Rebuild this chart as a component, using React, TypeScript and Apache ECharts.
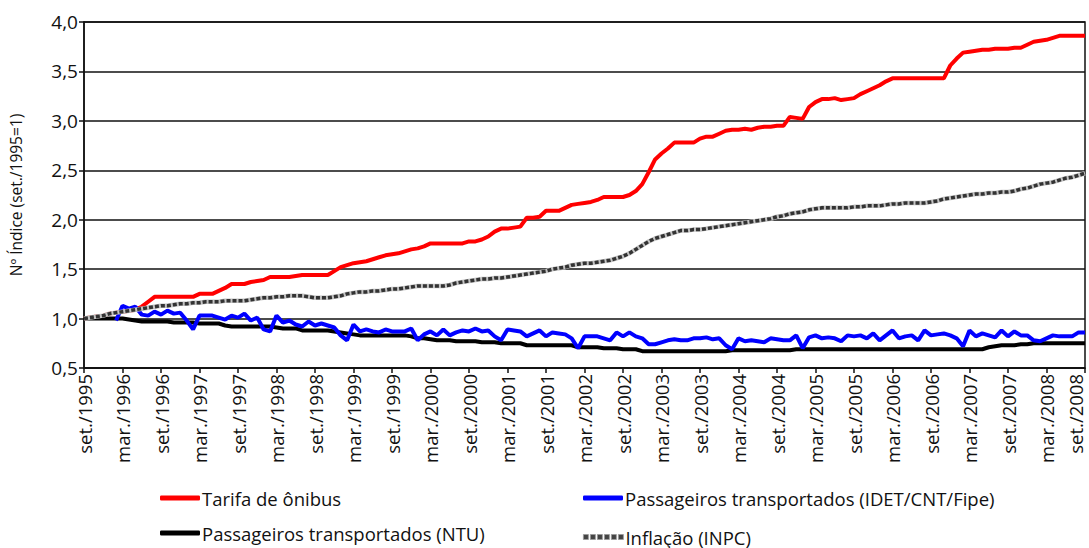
import React, { useEffect, useRef } from "react";
import * as echarts from "echarts";

const MONTHS = ["jan.", "fev.", "mar.", "abr.", "mai.", "jun.", "jul.", "ago.", "set.", "out.", "nov.", "dez."];
const START_YEAR = 1995;
const START_MONTH = 8; // set.
const N_MONTHS = 157; // set./1995 .. set./2008

const categories: string[] = [];
for (let i = 0; i < N_MONTHS; i++) {
  const k = START_MONTH + i;
  categories.push(`${MONTHS[k % 12]}/${START_YEAR + Math.floor(k / 12)}`);
}

const tarifa = [
  1.00, 1.01, 1.02, 1.03, 1.05, 1.06, 1.07, 1.08, 1.09, 1.12, 1.17, 1.22,
  1.22, 1.22, 1.22, 1.22, 1.22, 1.22, 1.25, 1.25, 1.25, 1.28, 1.31, 1.35,
  1.35, 1.35, 1.37, 1.38, 1.39, 1.42, 1.42, 1.42, 1.42, 1.43, 1.44, 1.44,
  1.44, 1.44, 1.44, 1.48, 1.52, 1.54, 1.56, 1.57, 1.58, 1.60, 1.62, 1.64,
  1.65, 1.66, 1.68, 1.70, 1.71, 1.73, 1.76, 1.76, 1.76, 1.76, 1.76, 1.76,
  1.78, 1.78, 1.80, 1.83, 1.88, 1.91, 1.91, 1.92, 1.93, 2.02, 2.02, 2.03,
  2.09, 2.09, 2.09, 2.12, 2.15, 2.16, 2.17, 2.18, 2.20, 2.23, 2.23, 2.23,
  2.23, 2.25, 2.29, 2.36, 2.48, 2.61, 2.67, 2.72, 2.78, 2.78, 2.78, 2.78,
  2.82, 2.84, 2.84, 2.87, 2.90, 2.91, 2.91, 2.92, 2.91, 2.93, 2.94, 2.94,
  2.95, 2.95, 3.04, 3.03, 3.02, 3.14, 3.19, 3.22, 3.22, 3.23, 3.21, 3.22,
  3.23, 3.27, 3.30, 3.33, 3.36, 3.40, 3.43, 3.43, 3.43, 3.43, 3.43, 3.43,
  3.43, 3.43, 3.43, 3.56, 3.63, 3.69, 3.70, 3.71, 3.72, 3.72, 3.73, 3.73,
  3.73, 3.74, 3.74, 3.77, 3.80, 3.81, 3.82, 3.84, 3.86, 3.86, 3.86, 3.86,
  3.86,
];

const passageirosIdet = [
  null, null, null, null, null, 0.98, 1.13, 1.10, 1.12, 1.04, 1.03, 1.07,
  1.04, 1.08, 1.05, 1.06, 0.98, 0.89, 1.03, 1.03, 1.03, 1.01, 0.99, 1.03,
  1.01, 1.05, 0.98, 1.01, 0.89, 0.87, 1.03, 0.96, 0.98, 0.94, 0.92, 0.97,
  0.93, 0.95, 0.93, 0.91, 0.83, 0.78, 0.94, 0.87, 0.89, 0.87, 0.86, 0.89,
  0.87, 0.87, 0.87, 0.90, 0.78, 0.84, 0.87, 0.83, 0.89, 0.83, 0.86, 0.88,
  0.87, 0.90, 0.87, 0.88, 0.82, 0.78, 0.89, 0.88, 0.87, 0.82, 0.85, 0.88,
  0.82, 0.86, 0.85, 0.84, 0.80, 0.70, 0.82, 0.82, 0.82, 0.80, 0.78, 0.86,
  0.82, 0.86, 0.82, 0.80, 0.74, 0.74, 0.76, 0.78, 0.79, 0.78, 0.78, 0.80,
  0.80, 0.81, 0.79, 0.80, 0.73, 0.69, 0.80, 0.77, 0.78, 0.77, 0.76, 0.80,
  0.79, 0.78, 0.78, 0.83, 0.70, 0.81, 0.83, 0.80, 0.81, 0.80, 0.77, 0.83,
  0.82, 0.83, 0.80, 0.85, 0.78, 0.83, 0.88, 0.80, 0.82, 0.83, 0.78, 0.88,
  0.83, 0.84, 0.85, 0.83, 0.80, 0.72, 0.88, 0.82, 0.85, 0.83, 0.81, 0.88,
  0.82, 0.87, 0.83, 0.83, 0.78, 0.77, 0.80, 0.83, 0.82, 0.82, 0.82, 0.86,
  0.86,
];

const passageirosNtu = [
  1.00, 1.00, 1.00, 1.00, 1.00, 1.00, 1.00, 0.99, 0.98, 0.97, 0.97, 0.97,
  0.97, 0.97, 0.96, 0.96, 0.96, 0.96, 0.95, 0.95, 0.95, 0.95, 0.93, 0.92,
  0.92, 0.92, 0.92, 0.92, 0.92, 0.92, 0.91, 0.90, 0.90, 0.90, 0.88, 0.88,
  0.88, 0.88, 0.88, 0.87, 0.86, 0.85, 0.84, 0.83, 0.83, 0.83, 0.83, 0.83,
  0.83, 0.83, 0.83, 0.82, 0.80, 0.80, 0.79, 0.78, 0.78, 0.78, 0.77, 0.77,
  0.77, 0.77, 0.76, 0.76, 0.76, 0.75, 0.75, 0.75, 0.75, 0.73, 0.73, 0.73,
  0.73, 0.73, 0.73, 0.73, 0.73, 0.71, 0.71, 0.71, 0.71, 0.70, 0.70, 0.70,
  0.69, 0.69, 0.69, 0.67, 0.67, 0.67, 0.67, 0.67, 0.67, 0.67, 0.67, 0.67,
  0.67, 0.67, 0.67, 0.67, 0.67, 0.68, 0.68, 0.68, 0.68, 0.68, 0.68, 0.68,
  0.68, 0.68, 0.68, 0.69, 0.69, 0.69, 0.69, 0.69, 0.69, 0.69, 0.69, 0.69,
  0.69, 0.69, 0.69, 0.69, 0.69, 0.69, 0.69, 0.69, 0.69, 0.69, 0.69, 0.69,
  0.69, 0.69, 0.69, 0.69, 0.69, 0.69, 0.69, 0.69, 0.69, 0.71, 0.72, 0.73,
  0.73, 0.73, 0.74, 0.74, 0.75, 0.75, 0.75, 0.75, 0.75, 0.75, 0.75, 0.75,
  0.75,
];

const inflacao = [
  1.00, 1.01, 1.02, 1.03, 1.05, 1.06, 1.07, 1.08, 1.09, 1.10, 1.11, 1.12,
  1.13, 1.13, 1.14, 1.15, 1.15, 1.16, 1.16, 1.17, 1.17, 1.17, 1.18, 1.18,
  1.18, 1.18, 1.19, 1.20, 1.21, 1.21, 1.22, 1.22, 1.23, 1.23, 1.23, 1.22,
  1.21, 1.21, 1.21, 1.22, 1.23, 1.25, 1.26, 1.27, 1.27, 1.28, 1.28, 1.29,
  1.30, 1.30, 1.31, 1.32, 1.33, 1.33, 1.33, 1.33, 1.33, 1.34, 1.36, 1.37,
  1.38, 1.39, 1.40, 1.40, 1.41, 1.41, 1.42, 1.43, 1.44, 1.45, 1.46, 1.47,
  1.48, 1.50, 1.51, 1.52, 1.54, 1.55, 1.56, 1.56, 1.57, 1.58, 1.59, 1.61,
  1.63, 1.66, 1.70, 1.74, 1.78, 1.81, 1.83, 1.85, 1.87, 1.89, 1.89, 1.90,
  1.90, 1.91, 1.92, 1.93, 1.94, 1.95, 1.96, 1.97, 1.98, 1.99, 2.00, 2.01,
  2.03, 2.04, 2.06, 2.07, 2.08, 2.10, 2.11, 2.12, 2.12, 2.12, 2.12, 2.12,
  2.13, 2.13, 2.14, 2.14, 2.14, 2.15, 2.16, 2.16, 2.17, 2.17, 2.17, 2.17,
  2.18, 2.19, 2.21, 2.22, 2.23, 2.24, 2.25, 2.26, 2.26, 2.27, 2.27, 2.28,
  2.28, 2.29, 2.31, 2.32, 2.34, 2.36, 2.37, 2.38, 2.40, 2.42, 2.43, 2.45,
  2.47,
];

const NAME_TARIFA = "Tarifa de ônibus";
const NAME_IDET = "Passageiros transportados (IDET/CNT/Fipe)";
const NAME_NTU = "Passageiros transportados (NTU)";
const NAME_INPC = "Inflação (INPC)";
const Y_NAME = "Nº Índice (set./1995=1)";

const FONT = "'Open Sans', 'Noto Sans', sans-serif";
const INK = "#111";
const DASH_ICON =
  "path://M0,0h5v5h-5zM7,0h5v5h-5zM14,0h5v5h-5zM21,0h5v5h-5zM28,0h5v5h-5zM35,0h5v5h-5z";

export default function App() {
  const ref = useRef<HTMLDivElement>(null);
  useEffect(() => {
    if (!ref.current) return;
    const chart = echarts.init(ref.current, undefined, { renderer: "svg" });
    const legendText = {
      fontSize: 18.5,
      lineHeight: 20,
      color: INK,
      fontFamily: FONT,
      padding: [0, 0, 0, -3],
    };
    const mkLegend = (name: string, left: number, top: number, icon: string, color?: string) => ({
      data: [name],
      left,
      top,
      padding: 0,
      icon,
      itemWidth: 40,
      itemHeight: 5,
      itemGap: 0,
      textStyle: legendText,
      selectedMode: false,
      ...(color ? { itemStyle: { color, borderColor: "#999", borderWidth: 0.8 } } : {}),
    });
    const lastIdx = categories.length - 1;
    const xData = categories.map((c, i) =>
      i === lastIdx ? { value: c, textStyle: { verticalAlign: "bottom" } } : c
    );
    chart.setOption({
      animation: false,
      backgroundColor: "#fff",
      textStyle: { fontFamily: FONT },
      grid: {
        left: 83,
        right: 4,
        top: 22,
        bottom: 180,
        show: true,
        borderColor: INK,
        borderWidth: 1.5,
        backgroundColor: "transparent",
      },
      xAxis: {
        type: "category",
        data: xData,
        boundaryGap: false,
        axisLine: { lineStyle: { color: INK, width: 1.5 } },
        axisTick: { interval: 5, length: 5, lineStyle: { color: INK, width: 1.5 } },
        axisLabel: { interval: 5, rotate: 90, fontSize: 18.5, color: INK, margin: 6, fontFamily: FONT },
        splitLine: { show: false },
      },
      yAxis: {
        type: "value",
        min: 0.5,
        max: 4,
        interval: 0.5,
        name: Y_NAME,
        nameLocation: "middle",
        nameGap: 60,
        nameTextStyle: { fontSize: 15.5, color: INK, fontFamily: FONT },
        axisLine: { show: true, lineStyle: { color: INK, width: 1.5 } },
        axisTick: { show: true, length: 5, lineStyle: { color: INK, width: 1.5 } },
        axisLabel: {
          fontSize: 19,
          color: INK,
          margin: 6,
          fontFamily: FONT,
          formatter: (v: number) => v.toFixed(1).replace(".", ","),
        },
        splitLine: { lineStyle: { color: INK, width: 1.5 } },
      },
      legend: [
        mkLegend(NAME_TARIFA, 160, 488, "roundRect"),
        mkLegend(NAME_IDET, 583, 488, "roundRect"),
        mkLegend(NAME_NTU, 160, 523, "roundRect"),
        mkLegend(NAME_INPC, 583, 527, DASH_ICON, "#444"),
      ],
      series: [
        {
          name: NAME_TARIFA,
          type: "line",
          data: tarifa,
          symbol: "none",
          lineStyle: { color: "#ff0000", width: 4 },
          itemStyle: { color: "#ff0000" },
          z: 2,
        },
        {
          name: NAME_NTU,
          type: "line",
          data: passageirosNtu,
          symbol: "none",
          lineStyle: { color: "#000000", width: 4 },
          itemStyle: { color: "#000000" },
          z: 3,
        },
        {
          name: NAME_IDET,
          type: "line",
          data: passageirosIdet,
          symbol: "none",
          connectNulls: false,
          lineStyle: { color: "#0000ff", width: 4 },
          itemStyle: { color: "#0000ff" },
          z: 4,
        },
        {
          name: "inpc-base",
          type: "line",
          data: inflacao,
          symbol: "none",
          lineStyle: { color: "#c4c4c4", width: 4.5 },
          itemStyle: { color: "#c4c4c4" },
          z: 5,
        },
        {
          name: NAME_INPC,
          type: "line",
          data: inflacao,
          symbol: "none",
          lineStyle: { color: "#333333", width: 3.5, type: [4, 2] },
          itemStyle: { color: "#333333" },
          z: 6,
        },
      ],
    });
    return () => chart.dispose();
  }, []);
  return (
    <div
      ref={ref}
      style={{ position: "fixed", left: 0, top: 0, width: 1089, height: 548, background: "#fff" }}
    />
  );
}
